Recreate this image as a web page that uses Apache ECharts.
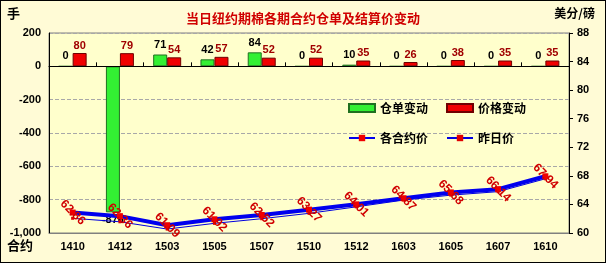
<!DOCTYPE html>
<html><head><meta charset="utf-8">
<script src="https://cdn.jsdelivr.net/npm/echarts@6/dist/echarts.min.js"></script>
<style>html,body{margin:0;padding:0;background:#FFFBD6;}#c{width:604px;height:261px;border:1px solid #000;}</style>
</head><body><div id="c"></div>
<script>
const categories = ['1410','1412','1503','1505','1507','1510','1512','1603','1605','1607','1610'];
const receiptChange = [0,-876,71,42,84,0,10,0,0,0,0];
const priceChange = [80,79,54,57,52,52,35,26,38,35,35];
const settlePrice = [62.86,62.36,61.09,61.92,62.52,63.27,64.01,64.87,65.68,66.14,67.94];
const prevPrice = [62.06,61.57,60.55,61.35,62.00,62.75,63.66,64.61,65.30,65.79,67.59];
const leftTicks = {min:-1000,max:200,interval:200};
const rightTicks = {min:60,max:88,interval:4};

const F = '"Liberation Sans","Noto Sans CJK SC",sans-serif';
const chart = echarts.init(document.getElementById('c'));
chart.setOption({
  animation:false,
  backgroundColor:'#FFFBD6',
  textStyle:{fontFamily:F},
  title:{text:'当日纽约期棉各期合约仓单及结算价变动',left:'center',top:6,
    textStyle:{color:'#D00000',fontSize:13,fontWeight:'bold',fontFamily:'"Noto Sans CJK SC",sans-serif',
      textShadowColor:'#700000',textShadowBlur:0,textShadowOffsetX:1,textShadowOffsetY:1}},
  graphic:[
    {type:'text',left:6,top:6,style:{text:'手',fill:'#000',font:'bold 13px "Noto Sans CJK SC"'}},
    {type:'text',right:10,top:6,style:{text:'美分/磅',fill:'#000',font:'bold 12px "Noto Sans CJK SC"'}},
    {type:'text',left:6,top:238,style:{text:'合约',fill:'#000',font:'bold 13px "Noto Sans CJK SC"'}}
  ],
  legend:{left:342,top:96,width:210,itemGap:18,itemWidth:26,itemHeight:8,
    textStyle:{fontSize:12,fontWeight:'bold',color:'#000',fontFamily:'"Noto Sans CJK SC",sans-serif'},
    data:[{name:'仓单变动',icon:'rect'},{name:'价格变动',icon:'rect'},{name:'各合约价'},{name:'昨日价'}]},
  grid:{left:48,right:36,top:32,bottom:29,show:true,backgroundColor:'#FFFFCC',borderColor:'#808080',borderWidth:1},
  xAxis:[
    {type:'category',data:categories,position:'bottom',axisLine:{onZero:true,lineStyle:{color:'#000',width:1}},
     axisTick:{show:true,inside:true,length:4,lineStyle:{color:'#000'}},axisLabel:{show:false},z:5},
    {type:'category',data:categories,position:'bottom',axisLine:{onZero:false,lineStyle:{color:'#808080'}},
     axisTick:{show:false},axisLabel:{color:'#000',fontWeight:'bold',fontSize:11,margin:8,fontFamily:F}}
  ],
  yAxis:[
    {type:'value',min:leftTicks.min,max:leftTicks.max,interval:leftTicks.interval,
     axisLine:{show:true,lineStyle:{color:'#000'}},axisTick:{show:false},
     axisLabel:{color:'#000',fontWeight:'bold',fontSize:11,margin:8,fontFamily:F},
     splitLine:{show:true,lineStyle:{type:'dashed',color:'#A8A8A8'}}},
    {type:'value',min:rightTicks.min,max:rightTicks.max,interval:rightTicks.interval,position:'right',
     axisLine:{show:true,lineStyle:{color:'#000'}},axisTick:{show:true,length:4,lineStyle:{color:'#000'}},
     axisLabel:{color:'#000',fontWeight:'bold',fontSize:11,margin:8,fontFamily:F},splitLine:{show:false}}
  ],
  series:[
    {name:'仓单变动',type:'bar',barWidth:14,barGap:'0%',
     itemStyle:{color:'#33F033',borderColor:'#207020',borderWidth:1},
     label:{show:true,position:'top',distance:4,color:'#000',fontWeight:'bold',fontSize:11,fontFamily:F},
     data:receiptChange.map(v=>v<0?{value:v,label:{position:'bottom',distance:2}}:v)},
    {name:'价格变动',type:'bar',barWidth:14,
     itemStyle:{color:'#F00000',borderColor:'#700000',borderWidth:1},
     label:{show:true,position:'top',distance:2,color:'#A00000',fontWeight:'bold',fontSize:11,fontFamily:F},
     data:priceChange},
    {name:'昨日价',type:'line',yAxisIndex:1,symbol:'rect',symbolSize:3,
     lineStyle:{color:'#0000E0',width:1},itemStyle:{color:'#E00000'},
     data:prevPrice,z:3},
    {name:'各合约价',type:'line',yAxisIndex:1,symbol:'rect',symbolSize:6,
     lineStyle:{color:'#0000EE',width:4},itemStyle:{color:'#F00000'},
     label:{show:true,position:'inside',rotate:-45,color:'#D00000',fontWeight:'bold',fontSize:12,fontFamily:F},
     data:settlePrice,z:4}
  ]
});
</script></body></html>
